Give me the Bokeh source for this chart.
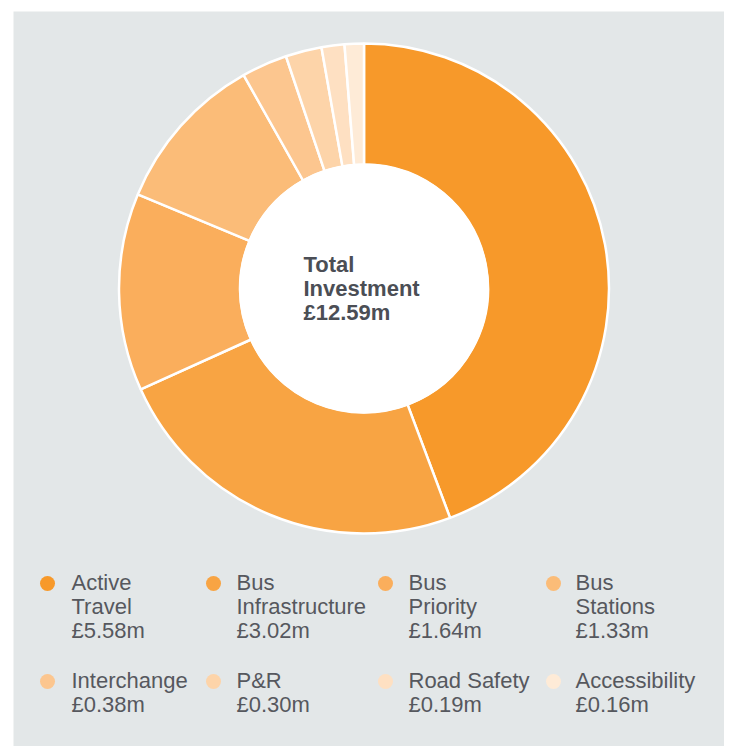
import numpy as np
from bokeh.plotting import figure
from bokeh.models import Range1d, ColumnDataSource
from bokeh.embed import file_html
from bokeh.resources import INLINE
from bokeh.core.properties import value

# ---- data ----
categories = ["Active Travel", "Bus Infrastructure", "Bus Priority", "Bus Stations",
              "Interchange", "P&R", "Road Safety", "Accessibility"]
values = [5.58, 3.02, 1.64, 1.33, 0.38, 0.30, 0.19, 0.16]
legend_labels = ["Active\nTravel\n£5.58m", "Bus\nInfrastructure\n£3.02m",
                 "Bus\nPriority\n£1.64m", "Bus\nStations\n£1.33m",
                 "Interchange\n£0.38m", "P&R\n£0.30m",
                 "Road Safety\n£0.19m", "Accessibility\n£0.16m"]
colors = ["#F7992A", "#F8A443", "#FAAE5C", "#FBBC78",
          "#FCC68F", "#FDD4A9", "#FEE0C2", "#FEEBD7"]
center_lines = ["Total", "Investment", "£12.59m"]

# ---- layout (frame pixels) ----
FW, FH = 711, 735
cx, cy = 350.5, 458
R_out, R_in = 245, 124

p = figure(width=724, height=746, output_backend="svg", toolbar_location=None,
           x_range=Range1d(0, FW), y_range=Range1d(0, FH),
           min_border_left=13, min_border_top=11, min_border_right=0, min_border_bottom=0)
p.background_fill_color = "#E3E7E8"
p.border_fill_color = "white"
p.outline_line_color = None
p.axis.visible = False
p.grid.visible = False

vals = np.array(values)
cum = np.cumsum(vals) / vals.sum()
prev = np.concatenate([[0], cum[:-1]])
start = np.pi / 2 - 2 * np.pi * prev
end = np.pi / 2 - 2 * np.pi * cum

src = ColumnDataSource(dict(x=[cx] * len(values), y=[cy] * len(values),
                            start=start, end=end, color=colors, cat=categories))
p.annular_wedge(x="x", y="y", inner_radius=R_in, outer_radius=R_out,
                start_angle="start", end_angle="end", direction="clock",
                fill_color="color", line_color="white", line_width=2.5, source=src)
p.circle(x=[cx], y=[cy], radius=R_in + 1, fill_color="white", line_color=None)

# center text
p.text(x=[290] * len(center_lines), y=[482 - 24 * i for i in range(len(center_lines))],
       text=center_lines, text_font=value("Liberation Sans"), text_font_style="bold",
       text_font_size="22px", text_color="#4B4E55", text_baseline="alphabetic",
       text_align="left")

# legend
dot_x = [34, 200, 372, 540]
txt_x = [58, 223, 395, 562]
row_dot_y = [163, 65]
row_txt_y = [164, 66]
lx, ly, lt = [], [], []
dx, dy = [], []
for i, lab in enumerate(legend_labels):
    col, row = i % 4, i // 4
    dx.append(dot_x[col]); dy.append(row_dot_y[row])
    for j, line in enumerate(lab.split("\n")):
        lx.append(txt_x[col]); ly.append(row_txt_y[row] - 24 * j); lt.append(line)

p.scatter(x=dx, y=dy, size=15, marker="circle", fill_color=colors, line_color=None)
p.text(x=lx, y=ly, text=lt, text_font=value("Liberation Sans"), text_font_size="22px",
       text_color="#56585E", text_baseline="alphabetic", text_align="left")

open("out.html", "w").write(file_html(p, INLINE))
